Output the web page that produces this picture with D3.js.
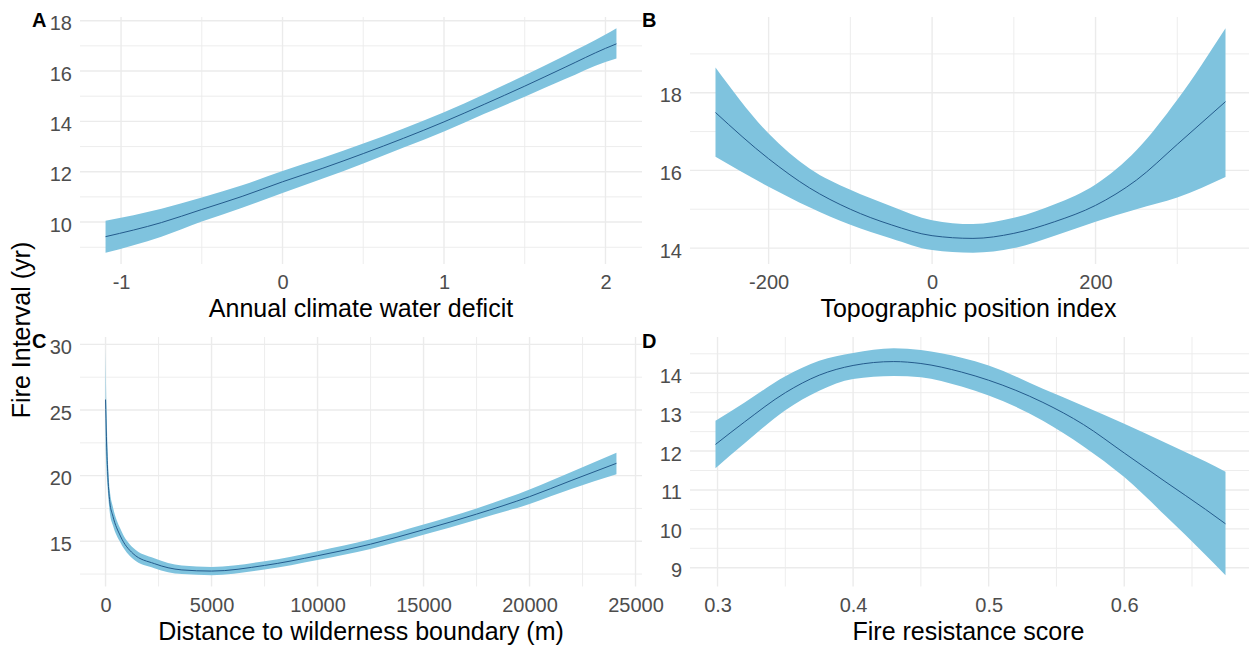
<!DOCTYPE html>
<html>
<head>
<meta charset="utf-8">
<script src="https://cdn.jsdelivr.net/npm/d3@7"></script>
<style>
  html, body { margin: 0; padding: 0; background: #ffffff; }
  svg { display: block; font-family: "Liberation Sans", Arial, sans-serif; }
</style>
</head>
<body>
<svg id="chart" width="1249" height="645"></svg>
<script>
// Panel A: annual climate water deficit
const xA   = [-1.096, -0.75, -0.5, -0.25, 0, 0.25, 0.5, 0.75, 1, 1.25, 1.5, 1.75, 2, 2.068];
const fitA = [9.42, 9.98, 10.5, 11.02, 11.6, 12.14, 12.72, 13.33, 13.98, 14.68, 15.4, 16.15, 16.9, 17.08];
const loA  = [8.78, 9.42, 10.02, 10.57, 11.15, 11.73, 12.33, 12.96, 13.6, 14.3, 14.98, 15.68, 16.36, 16.5];
const hiA  = [10.05, 10.53, 10.98, 11.46, 12.03, 12.55, 13.12, 13.72, 14.36, 15.08, 15.83, 16.62, 17.45, 17.7];
const ticksXA = [-1, 0, 1, 2];
const ticksYA = [10, 12, 14, 16, 18];

// Panel B: topographic position index
const xB   = [-265, -200, -150, -100, -50, 0, 50, 100, 150, 200, 250, 300, 359];
const fitB = [17.49, 16.3, 15.55, 15.0, 14.6, 14.32, 14.25, 14.38, 14.68, 15.1, 15.75, 16.67, 17.77];
const loB  = [16.35, 15.58, 15.05, 14.6, 14.25, 13.95, 13.88, 14.0, 14.32, 14.68, 15.0, 15.3, 15.83];
const hiB  = [18.65, 16.95, 16.05, 15.5, 15.08, 14.72, 14.62, 14.78, 15.13, 15.64, 16.52, 17.82, 19.66];
const ticksXB = [-200, 0, 200];
const ticksYB = [14, 16, 18];

// Panel C: distance to wilderness boundary (m)
const xC   = [0, 40, 100, 200, 350, 700, 1300, 2300, 3600, 5000, 7500, 10000, 12500, 15000, 17500, 20000, 22000, 24100];
const fitC = [25.8, 23.0, 20.3, 18.0, 16.9, 15.4, 14.06, 13.3, 12.82, 12.73, 13.16, 13.9, 14.78, 15.88, 17.07, 18.4, 19.65, 20.94];
const loC  = [22.3, 20.6, 19.0, 17.2, 16.2, 14.9, 13.65, 12.95, 12.5, 12.42, 12.85, 13.58, 14.42, 15.5, 16.65, 17.85, 19.0, 20.1];
const hiC  = [29.7, 25.6, 21.8, 18.9, 17.6, 15.95, 14.5, 13.7, 13.15, 13.05, 13.48, 14.25, 15.15, 16.28, 17.5, 18.95, 20.3, 21.75];
const ticksXC = [0, 5000, 10000, 15000, 20000, 25000];
const ticksYC = [15, 20, 25, 30];

// Panel D: fire resistance score
const xD   = [0.2985, 0.32, 0.35, 0.375, 0.4, 0.43, 0.45, 0.48, 0.5, 0.54, 0.57, 0.6, 0.63, 0.66, 0.6747];
const fitD = [12.17, 12.75, 13.5, 13.95, 14.2, 14.3, 14.25, 14.03, 13.82, 13.25, 12.68, 11.95, 11.22, 10.5, 10.13];
const loD  = [11.56, 12.2, 13.05, 13.55, 13.85, 13.93, 13.9, 13.66, 13.43, 12.78, 12.12, 11.33, 10.35, 9.33, 8.81];
const hiD  = [12.78, 13.25, 13.92, 14.32, 14.52, 14.64, 14.6, 14.4, 14.2, 13.6, 13.16, 12.7, 12.22, 11.73, 11.47];
const ticksXD = [0.3, 0.4, 0.5, 0.6];
const ticksYD = [9, 10, 11, 12, 13, 14];

const panelTags = ["A", "B", "C", "D"];
const xTitles = ["Annual climate water deficit", "Topographic position index",
                 "Distance to wilderness boundary (m)", "Fire resistance score"];
const yTitle = "Fire Interval (yr)";

const svg = d3.select("#chart");
const BAND = "#7FC3DE", LINE = "#245B8C", GRID = "#EBEBEB", TICKTXT = "#4D4D4D";

const panels = [
  { x: xA, fit: fitA, lo: loA, hi: hiA, tx: ticksXA, ty: ticksYA, box: [80, 642, 17, 264], fmt: d => String(d) },
  { x: xB, fit: fitB, lo: loB, hi: hiB, tx: ticksXB, ty: ticksYB, box: [690, 1251, 17, 264], fmt: d => String(d) },
  { x: xC, fit: fitC, lo: loC, hi: hiC, tx: ticksXC, ty: ticksYC, box: [80, 642, 337, 586.5], fmt: d => String(d) },
  { x: xD, fit: fitD, lo: loD, hi: hiD, tx: ticksXD, ty: ticksYD, box: [690, 1251, 337, 586.5], fmt: d3.format(".1f") }
];

// continuous scale expansion of 5% on each side
function expand(lo, hi) { const r = hi - lo; return [lo - 0.05 * r, hi + 0.05 * r]; }

// minor breaks halfway between majors, extended one step either side
function minors(ticks, dom) {
  const step = ticks[1] - ticks[0];
  const out = [];
  for (let v = ticks[0] - step / 2; v <= ticks[ticks.length - 1] + step / 2 + 1e-9; v += step) {
    if (v >= dom[0] && v <= dom[1]) out.push(v);
  }
  return out;
}

panels.forEach((p, i) => {
  const [L, R, T, B] = p.box;
  const xDom = expand(d3.min(p.x), d3.max(p.x));
  const yDom = expand(d3.min(p.lo), d3.max(p.hi));
  const x = d3.scaleLinear().domain(xDom).range([L, R]);
  const y = d3.scaleLinear().domain(yDom).range([B, T]);
  const g = svg.append("g");

  // grid lines
  const grid = g.append("g");
  minors(p.tx, xDom).forEach(v => grid.append("line")
    .attr("x1", x(v)).attr("x2", x(v)).attr("y1", T).attr("y2", B)
    .attr("stroke", GRID).attr("stroke-width", 0.9));
  minors(p.ty, yDom).forEach(v => grid.append("line")
    .attr("x1", L).attr("x2", R).attr("y1", y(v)).attr("y2", y(v))
    .attr("stroke", GRID).attr("stroke-width", 0.9));
  p.tx.filter(v => v >= xDom[0] && v <= xDom[1]).forEach(v => grid.append("line")
    .attr("x1", x(v)).attr("x2", x(v)).attr("y1", T).attr("y2", B)
    .attr("stroke", GRID).attr("stroke-width", 1.4));
  p.ty.filter(v => v >= yDom[0] && v <= yDom[1]).forEach(v => grid.append("line")
    .attr("x1", L).attr("x2", R).attr("y1", y(v)).attr("y2", y(v))
    .attr("stroke", GRID).attr("stroke-width", 1.4));

  const rows = p.x.map((xv, k) => ({ x: xv, fit: p.fit[k], lo: p.lo[k], hi: p.hi[k] }));

  // confidence ribbon
  g.append("path").datum(rows)
    .attr("fill", BAND)
    .attr("d", d3.area().curve(d3.curveMonotoneX)
      .x(d => x(d.x)).y0(d => y(d.lo)).y1(d => y(d.hi)));

  // fitted line
  g.append("path").datum(rows)
    .attr("fill", "none").attr("stroke", LINE).attr("stroke-width", 1)
    .attr("d", d3.line().curve(d3.curveMonotoneX).x(d => x(d.x)).y(d => y(d.fit)));

  // axes (labels only)
  const ax = g.append("g").attr("transform", `translate(0,${B})`)
    .call(d3.axisBottom(x).tickValues(p.tx).tickSize(0).tickPadding(11).tickFormat(p.fmt));
  ax.select(".domain").remove();
  ax.selectAll("text").attr("font-size", 20).attr("fill", TICKTXT)
    .attr("font-family", "Liberation Sans, Arial, sans-serif");

  const ay = g.append("g").attr("transform", `translate(${L},0)`)
    .call(d3.axisLeft(y).tickValues(p.ty).tickSize(0).tickPadding(8).tickFormat(d => String(d)));
  ay.select(".domain").remove();
  ay.selectAll("text").attr("font-size", 20).attr("fill", TICKTXT).attr("dy", "0.45em")
    .attr("font-family", "Liberation Sans, Arial, sans-serif");

  // x title
  g.append("text").attr("x", (L + R) / 2 - (i % 2 ? 2 : 0)).attr("y", B + 53)
    .attr("text-anchor", "middle").attr("font-size", 25).attr("fill", "#000")
    .text(xTitles[i]);

  // panel tag
  g.append("text").attr("x", i % 2 === 0 ? 32 : 642).attr("y", i < 2 ? 27 : 348)
    .attr("font-size", 20).attr("font-weight", "bold").attr("fill", "#000")
    .text(panelTags[i]);
});

// shared y title
svg.append("text").attr("transform", "translate(30,330) rotate(-90)")
  .attr("text-anchor", "middle").attr("font-size", 25).attr("fill", "#000")
  .text(yTitle);
</script>
</body>
</html>
